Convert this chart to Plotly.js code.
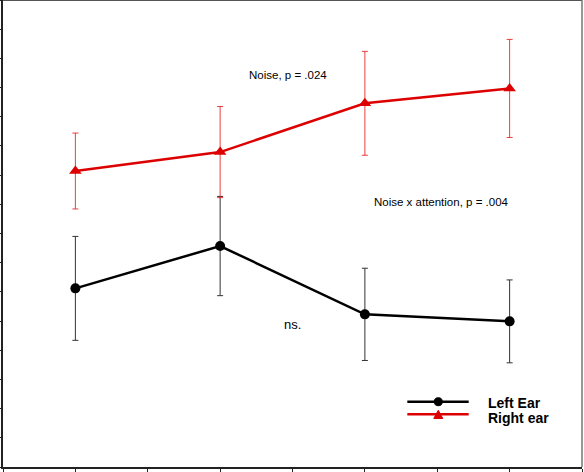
<!DOCTYPE html>
<html>
<head>
<meta charset="utf-8">
<script src="https://cdn.plot.ly/plotly-3.0.1.min.js"></script>
<style>
  html, body { margin: 0; padding: 0; background: #fff; }
  #chart { width: 584px; height: 472px; }
</style>
</head>
<body>
<div id="chart"></div>
<script>
// condition positions on the x axis
var conditions = [1, 2, 3, 4];

// left ear means and error bars
var leftEar = [6.12, 7.57, 5.23, 4.99];
var leftErr = [1.78, 1.70, 1.58, 1.42];

// right ear means and error bars
var rightEar = [10.14, 10.79, 12.46, 12.97];
var rightErr = [1.30, 1.56, 1.78, 1.68];

var seriesNames = ['Left Ear', 'Right ear'];

var red = '#dd0000';

var traceLeft = {
    x: conditions,
    y: leftEar,
    name: seriesNames[0],
    mode: 'lines+markers',
    type: 'scatter',
    line: { color: '#000', width: 2.5 },
    marker: { symbol: 'circle', size: 10, color: '#000' },
    error_y: { type: 'data', array: leftErr, visible: true, color: '#333', thickness: 1, width: 3 }
};

var traceRight = {
    x: conditions,
    y: rightEar,
    name: seriesNames[1],
    mode: 'lines+markers',
    type: 'scatter',
    line: { color: red, width: 2.5 },
    marker: { symbol: 'triangle-up', size: 11, color: red },
    error_y: { type: 'data', array: rightErr, visible: true, color: 'rgba(230,30,30,0.85)', thickness: 1, width: 3 }
};

var noteFont = { family: 'Liberation Sans, Arial, sans-serif', size: 11.5, color: '#000' };
var legendFont = { family: 'Liberation Sans, Arial, sans-serif', size: 14, color: '#000', weight: 'bold' };

// hand-drawn legend (the old program drew long sample lines, tight rows)
var legendShapes = [
    { type: 'line', xref: 'paper', yref: 'paper', x0: 0.6983, x1: 0.8043, y0: 0.1398, y1: 0.1398, line: { color: '#000', width: 2.5 } },
    { type: 'circle', xref: 'paper', yref: 'paper', x0: 0.7449, x1: 0.7587, y0: 0.1312, y1: 0.1484, fillcolor: '#000', line: { color: '#000', width: 1 } },
    { type: 'line', xref: 'paper', yref: 'paper', x0: 0.6983, x1: 0.8043, y0: 0.1128, y1: 0.1128, line: { color: red, width: 2.5 } },
    { type: 'path', xref: 'paper', yref: 'paper', path: 'M0.7518,0.1215 L0.7440,0.1039 L0.7596,0.1039 Z', fillcolor: red, line: { color: red, width: 1 } }
];

var layout = {
    width: 584,
    height: 472,
    margin: { l: 3, r: 2, t: 0, b: 5 },
    paper_bgcolor: '#fff',
    plot_bgcolor: '#fff',
    showlegend: false,
    xaxis: {
        range: [0.5, 4.5],
        dtick: 0.5,
        tick0: 0.5,
        ticks: 'outside',
        ticklen: 5,
        tickcolor: '#222',
        showticklabels: false,
        showgrid: false,
        zeroline: false,
        showline: true,
        linecolor: '#222',
        linewidth: 2
    },
    yaxis: {
        range: [0, 16],
        dtick: 1,
        ticks: 'outside',
        ticklen: 4,
        tickcolor: '#222',
        showticklabels: false,
        showgrid: false,
        zeroline: false,
        showline: true,
        linecolor: '#222',
        linewidth: 2
    },
    annotations: [
        { text: 'Noise, p = .024', x: 2.47, y: 13.42, xref: 'x', yref: 'y', showarrow: false, font: noteFont },
        { text: 'Noise x attention, p = .004', x: 3.53, y: 9.08, xref: 'x', yref: 'y', showarrow: false, font: noteFont },
        { text: 'ns.', x: 2.5, y: 4.87, xref: 'x', yref: 'y', showarrow: false,
          font: { family: 'Liberation Sans, Arial, sans-serif', size: 13, color: '#000' } },
        { text: seriesNames[0], x: 0.8342, y: 0.1364, xref: 'paper', yref: 'paper', xanchor: 'left', yanchor: 'middle', showarrow: false, font: legendFont },
        { text: seriesNames[1], x: 0.8342, y: 0.1056, xref: 'paper', yref: 'paper', xanchor: 'left', yanchor: 'middle', showarrow: false, font: legendFont }
    ],
    shapes: [
        { type: 'line', xref: 'paper', yref: 'paper', x0: 0, x1: 1, y0: 1, y1: 1, line: { color: '#555', width: 2 } },
        { type: 'line', xref: 'paper', yref: 'paper', x0: 1, x1: 1, y0: 0, y1: 1, line: { color: '#777', width: 1.5 } }
    ].concat(legendShapes)
};

Plotly.newPlot('chart', [traceLeft, traceRight], layout, { displayModeBar: false, staticPlot: true });
</script>
</body>
</html>
